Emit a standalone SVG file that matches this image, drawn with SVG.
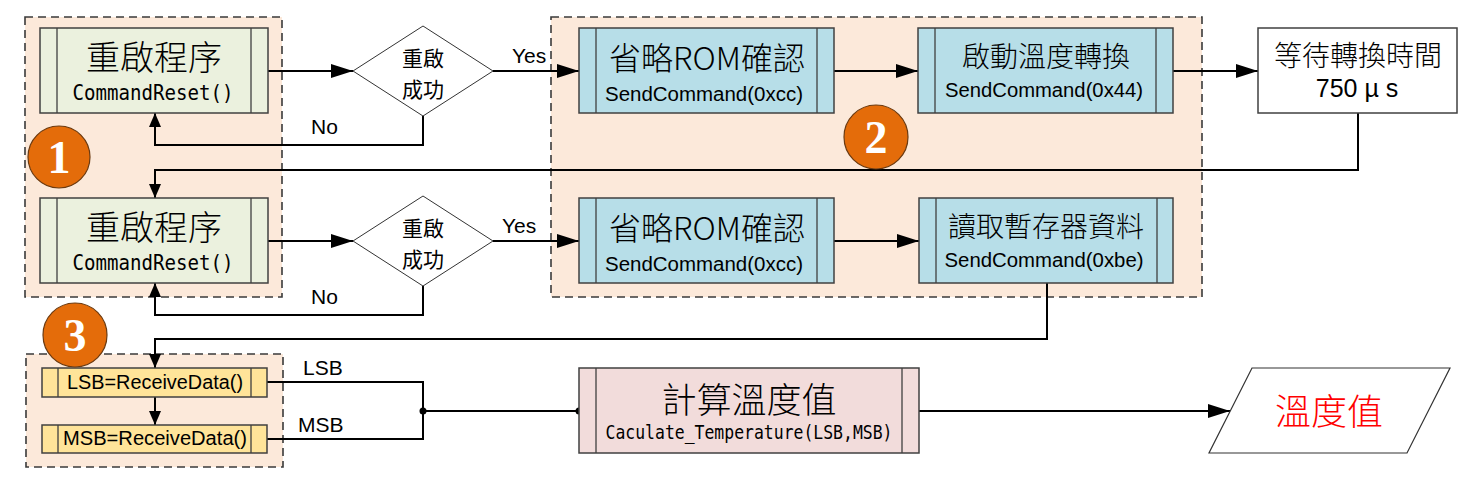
<svg xmlns="http://www.w3.org/2000/svg" width="1474" height="482" viewBox="0 0 1474 482">
<style>
.grp{fill:#FCE9DA;stroke:#3a3a3a;stroke-width:1.6;stroke-dasharray:8,5}
.box{stroke:#404040;stroke-width:1.5}
.bar{stroke:#404040;stroke-width:1.3;fill:none}
.green{fill:#EBF1DE}
.blue{fill:#B7DEE8}
.yellow{fill:#FFE499}
.pink{fill:#F2DCDB}
.white{fill:#FFFFFF}
.cjk{font-family:"Noto Sans CJK TC","Noto Sans CJK SC",sans-serif;font-weight:300;fill:#000;text-anchor:middle}
.dia{font-family:"Noto Sans CJK TC","Noto Sans CJK SC",sans-serif;font-weight:400;fill:#000;text-anchor:middle;font-size:21px}
.lat{font-family:"Liberation Sans",Arial,sans-serif;fill:#000;text-anchor:middle}
.mono{font-family:"DejaVu Sans Mono","Liberation Mono",monospace;fill:#000;text-anchor:middle}
.lbl{font-family:"Liberation Sans",Arial,sans-serif;fill:#000;font-size:21px}
.con{fill:none;stroke:#000;stroke-width:2}
.badge{fill:#E46C0A;stroke:#6b3a10;stroke-width:1.2}
.num{font-family:"Liberation Serif","Times New Roman",serif;font-weight:bold;font-size:46px;fill:#fff;text-anchor:middle}
</style>
<defs>
<marker id="ah" markerUnits="userSpaceOnUse" markerWidth="22" markerHeight="14" refX="22" refY="7" orient="auto">
<path d="M0,0 L22,7 L0,14 z" fill="#000"/>
</marker>
<marker id="as" markerUnits="userSpaceOnUse" markerWidth="14" markerHeight="12" refX="14" refY="6" orient="auto">
<path d="M0,0 L14,6 L0,12 z" fill="#000"/>
</marker>
</defs>
<rect width="1474" height="482" fill="#fff"/>

<g id="group1"><rect class="grp" x="25" y="17" width="257" height="280"/></g>
<g id="group2"><rect class="grp" x="551" y="17" width="651" height="280"/></g>
<g id="group3"><rect class="grp" x="26" y="354" width="257" height="113"/></g>

<g id="connectors">
<path class="con" d="M268,71 H353" marker-end="url(#ah)"/>
<path class="con" d="M493,71 H579" marker-end="url(#ah)"/>
<path class="con" d="M423,116 V145 H155 V113" marker-end="url(#as)"/>
<path class="con" d="M834,71 H918" marker-end="url(#ah)"/>
<path class="con" d="M1173,71 H1258" marker-end="url(#ah)"/>
<path class="con" d="M1358,113 V170 H155 V198" marker-end="url(#as)"/>
<path class="con" d="M268,241 H353" marker-end="url(#ah)"/>
<path class="con" d="M493,241 H579" marker-end="url(#ah)"/>
<path class="con" d="M423,286 V315 H155 V283" marker-end="url(#as)"/>
<path class="con" d="M834,241 H919" marker-end="url(#ah)"/>
<path class="con" d="M1047,283 V339 H155 V368" marker-end="url(#as)"/>
<path class="con" d="M155,397 V425" marker-end="url(#as)"/>
<path class="con" d="M267,382 H423 V439 H267"/>
<path class="con" d="M423,411 H579"/>
<circle cx="423" cy="411" r="3.5" fill="#000"/>
<circle cx="579" cy="411" r="3.5" fill="#000"/>
<path class="con" d="M919,411 H1230" marker-end="url(#ah)"/>
<text class="lbl" x="512" y="63">Yes</text>
<text class="lbl" x="311" y="134">No</text>
<text class="lbl" x="502" y="233">Yes</text>
<text class="lbl" x="311" y="304">No</text>
<text class="lbl" x="303" y="375">LSB</text>
<text class="lbl" x="298" y="432">MSB</text>
</g>

<g id="reset1">
<rect class="box green" x="40" y="28" width="228" height="85"/>
<path class="bar" d="M57,28 V113 M251,28 V113"/>
<text class="cjk" x="154" y="70" font-size="34">重啟程序</text>
<text class="mono" x="153" y="100" font-size="21" textLength="161" lengthAdjust="spacingAndGlyphs">CommandReset()</text>
</g>

<g id="check1">
<polygon points="423,26 493,71 423,116 353,71" fill="#fff" stroke="#333" stroke-width="1"/>
<text class="dia" x="423" y="66">重啟</text>
<text class="dia" x="423" y="97">成功</text>
</g>

<g id="skiprom1">
<rect class="box blue" x="579" y="28" width="255" height="85"/>
<path class="bar" d="M596,28 V113 M817,28 V113"/>
<text class="cjk" x="707" y="70" font-size="32">省略ROM確認</text>
<text class="lat" x="704" y="101" font-size="20" textLength="198" lengthAdjust="spacingAndGlyphs">SendCommand(0xcc)</text>
</g>

<g id="convert">
<rect class="box blue" x="918" y="28" width="255" height="85"/>
<path class="bar" d="M935,28 V113 M1156,28 V113"/>
<text class="cjk" x="1046" y="67" font-size="28">啟動溫度轉換</text>
<text class="lat" x="1044" y="97" font-size="20" textLength="198" lengthAdjust="spacingAndGlyphs">SendCommand(0x44)</text>
</g>

<g id="wait">
<rect class="box white" x="1258" y="28" width="199" height="85"/>
<text class="cjk" x="1358" y="66" font-size="28">等待轉換時間</text>
<text class="lat" x="1357" y="97" font-size="25">750 µ s</text>
</g>

<g id="reset2">
<rect class="box green" x="40" y="198" width="228" height="85"/>
<path class="bar" d="M57,198 V283 M251,198 V283"/>
<text class="cjk" x="154" y="240" font-size="34">重啟程序</text>
<text class="mono" x="153" y="270" font-size="21" textLength="161" lengthAdjust="spacingAndGlyphs">CommandReset()</text>
</g>

<g id="check2">
<polygon points="423,196 493,241 423,286 353,241" fill="#fff" stroke="#333" stroke-width="1"/>
<text class="dia" x="423" y="236">重啟</text>
<text class="dia" x="423" y="267">成功</text>
</g>

<g id="skiprom2">
<rect class="box blue" x="579" y="198" width="255" height="85"/>
<path class="bar" d="M596,198 V283 M817,198 V283"/>
<text class="cjk" x="707" y="240" font-size="32">省略ROM確認</text>
<text class="lat" x="704" y="271" font-size="20" textLength="198" lengthAdjust="spacingAndGlyphs">SendCommand(0xcc)</text>
</g>

<g id="readscratch">
<rect class="box blue" x="919" y="198" width="254" height="85"/>
<path class="bar" d="M936,198 V283 M1157,198 V283"/>
<text class="cjk" x="1046" y="237" font-size="28">讀取暫存器資料</text>
<text class="lat" x="1044" y="267" font-size="20" textLength="199" lengthAdjust="spacingAndGlyphs">SendCommand(0xbe)</text>
</g>

<g id="lsb">
<rect class="box yellow" x="42" y="368" width="225" height="29"/>
<path class="bar" d="M58,368 V397 M251,368 V397"/>
<text class="lat" x="155" y="389" font-size="20" textLength="176" lengthAdjust="spacingAndGlyphs">LSB=ReceiveData()</text>
</g>

<g id="msb">
<rect class="box yellow" x="42" y="425" width="225" height="28"/>
<path class="bar" d="M58,425 V453 M251,425 V453"/>
<text class="lat" x="155" y="445" font-size="20" textLength="184" lengthAdjust="spacingAndGlyphs">MSB=ReceiveData()</text>
</g>

<g id="calc">
<rect class="box pink" x="579" y="368" width="340" height="85"/>
<path class="bar" d="M596,368 V453 M902,368 V453"/>
<text class="cjk" x="749" y="413" font-size="35">計算溫度值</text>
<text class="mono" x="749" y="439" font-size="19" textLength="287" lengthAdjust="spacingAndGlyphs">Caculate_Temperature(LSB,MSB)</text>
</g>

<g id="output">
<polygon points="1252,368 1450,368 1407,453 1209,453" fill="#fff" stroke="#333" stroke-width="1.2"/>
<text class="cjk" x="1329" y="425" font-size="36" style="fill:#FF0000">溫度值</text>
</g>

<g id="badge1"><circle class="badge" cx="59" cy="157" r="31"/><text class="num" x="59" y="173">1</text></g>
<g id="badge2"><circle class="badge" cx="876" cy="137" r="32"/><text class="num" x="876" y="153">2</text></g>
<g id="badge3"><circle class="badge" cx="75" cy="335" r="32"/><text class="num" x="75" y="351">3</text></g>
</svg>
